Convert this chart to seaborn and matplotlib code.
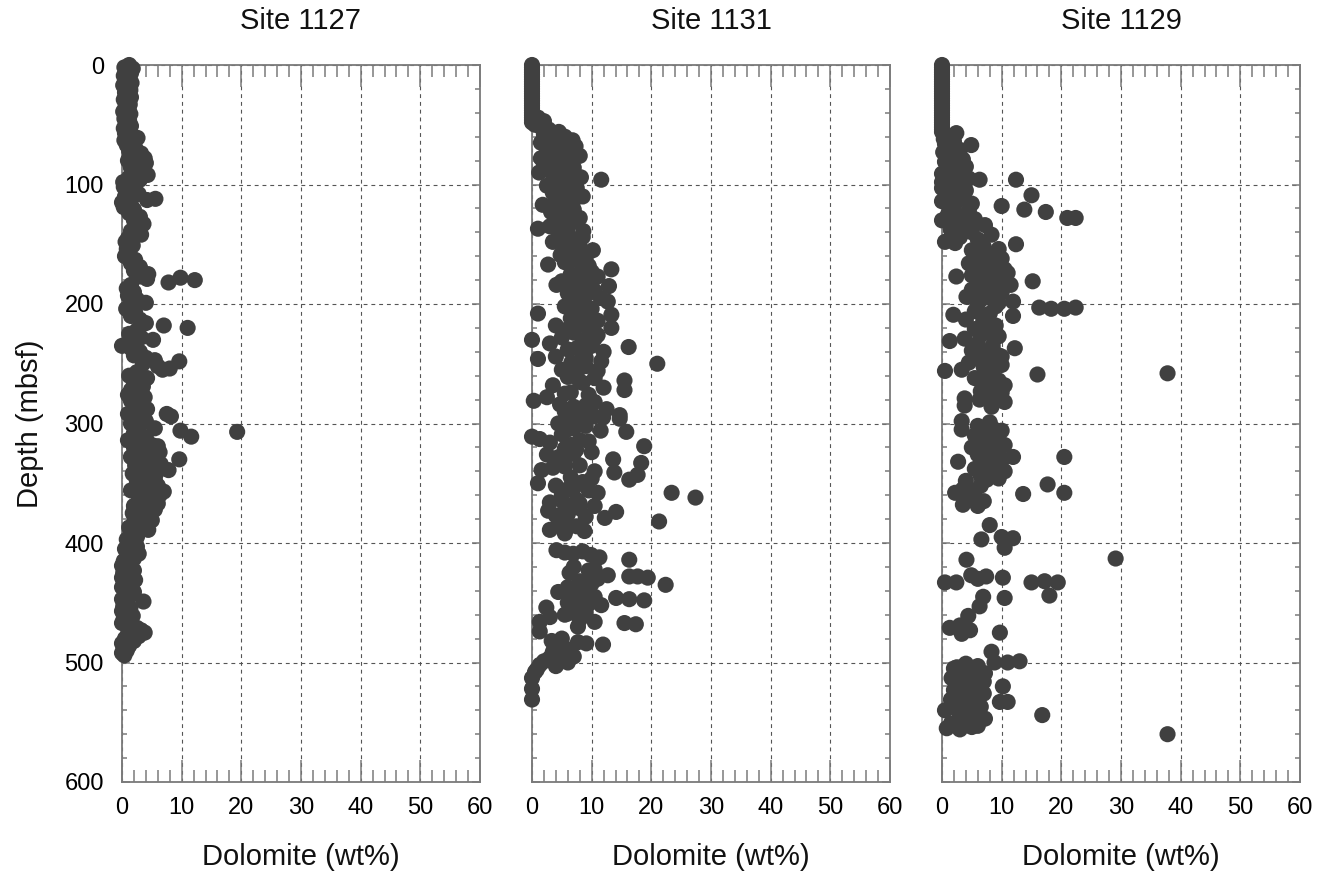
import numpy as np
import pandas as pd
import matplotlib
matplotlib.use("Agg")
import matplotlib.pyplot as plt
from matplotlib.ticker import MultipleLocator
import seaborn as sns

# ---------------- data ----------------
sites = ["Site 1127", "Site 1131", "Site 1129"]

depth_1127 = [0, 2, 3, 5, 7, 9, 11, 13, 15, 17, 19, 21, 23, 25, 27, 29, 31, 33, 35, 37, 39, 41, 43, 45, 47, 49,
              51, 53, 55, 57, 59, 61, 63, 65, 67, 69, 72, 74, 76, 78, 80, 82, 84, 86, 88, 90, 92, 94, 96, 98,
              100, 102, 104, 106, 108, 110, 112, 113, 115, 117, 119, 121, 124, 127, 130, 133, 136, 139, 142,
              145, 148, 151, 154, 157, 160, 163, 166, 169, 172, 175, 177, 178, 180, 182, 179, 184, 187, 190,
              193, 196, 199, 201, 204, 207, 210, 213, 216, 218, 220, 222, 225, 228, 230, 232, 235, 237, 240,
              243, 245, 247, 248, 250, 252, 254, 255, 257, 260, 263, 266, 269, 272, 275, 278, 281, 284, 287,
              290, 292, 294, 296, 298, 300, 302, 304, 306, 307, 311, 308, 312, 314, 316, 318, 320, 322, 324,
              326, 328, 330, 331, 333, 335, 337, 339, 340, 342, 344, 346, 348, 350, 352, 354, 356, 357, 359,
              361, 363, 365, 367, 369, 371, 373, 375, 377, 379, 381, 383, 385, 387, 389, 391, 393, 395, 397,
              399, 401, 403, 405, 407, 409, 411, 413, 415, 417, 419, 421, 423, 425, 427, 429, 431, 433, 435,
              437, 439, 441, 443, 445, 447, 449, 451, 453, 455, 457, 459, 461, 463, 465, 467, 469, 471, 473,
              475, 476, 478, 480, 482, 484, 486, 488, 490, 492, 494,
              310, 319, 327, 334, 341, 347, 353, 360, 366, 372, 378, 384, 389, 292, 288, 283, 276, 268, 262]
dol_1127 = [1.2, 0.4, 1.8, 0.8, 1.5, 0.3, 1.2, 0.7, 1.6, 0.2, 1.0, 1.4, 0.5, 1.1, 1.5, 0.3, 0.9, 1.3, 0.6, 1.1,
            0.2, 1.4, 0.8, 0.4, 1.2, 0.7, 1.5, 0.3, 1.0, 0.5, 1.3, 2.6, 0.4, 1.6, 0.8, 2.2, 1.2, 3.2, 2.0, 3.8,
            1.0, 4.0, 2.5, 1.5, 3.0, 2.0, 4.3, 1.2, 3.0, 0.2, 0.8, 0.3, 2.2, 1.2, 2.8, 0.5, 5.6, 4.2, 0.0, 1.5,
            0.3, 2.0, 1.2, 3.0, 2.0, 3.6, 2.5, 1.5, 3.2, 1.0, 0.6, 1.8, 0.8, 1.2, 0.5, 2.2, 1.5, 3.0, 2.0, 4.4,
            3.0, 9.8, 12.2, 7.8, 4.2, 1.5, 0.8, 2.0, 1.0, 2.5, 4.0, 1.8, 0.7, 2.2, 1.5, 3.0, 4.0, 7.0, 11.0,
            2.5, 1.2, 3.2, 5.2, 2.0, 0.0, 1.5, 3.0, 2.0, 4.0, 5.5, 9.6, 3.5, 6.0, 8.0, 6.8, 2.5, 1.2, 3.0, 2.0,
            3.5, 1.5, 2.8, 3.8, 1.5, 3.0, 2.0, 3.5, 7.5, 8.2, 2.5, 4.0, 1.5, 3.0, 5.5, 9.8, 19.3, 11.6, 2.0,
            4.0, 1.0, 3.0, 5.0, 2.0, 4.5, 6.3, 3.0, 1.5, 9.6, 5.0, 3.5, 2.2, 5.2, 7.8, 4.0, 1.8, 3.2, 5.5, 2.5,
            4.5, 6.0, 3.0, 1.5, 7.0, 4.5, 2.8, 5.0, 3.5, 6.0, 2.0, 4.0, 3.0, 1.8, 4.5, 3.0, 5.0, 2.0, 3.8, 1.2,
            4.4, 2.8, 1.5, 2.5, 0.8, 2.0, 1.2, 2.5, 0.5, 1.8, 2.8, 1.0, 2.0, 0.3, 1.5, 0.0, 1.2, 2.0, 0.2, 1.5,
            0.0, 2.2, 0.8, 1.6, 0.0, 1.0, 2.0, 0.5, 1.2, 0.0, 3.6, 1.0, 0.2, 1.4, 0.0, 0.8, 1.8, 0.3, 1.0, 0.0,
            1.5, 2.5, 3.2, 3.8, 1.0, 2.8, 0.5, 2.0, 0.0, 1.2, 0.3, 0.8, 0.0, 0.4,
            2.0, 6.0, 4.0, 6.5, 5.8, 3.8, 5.0, 6.3, 4.5, 5.5, 2.2, 4.0, 3.2, 1.0, 4.2, 2.2, 1.0, 2.5, 4.2]

depth_1131 = [0, 2, 4, 6, 8, 10, 12, 14, 16, 18, 20, 22, 24, 26, 28, 30, 32, 34, 36, 38, 40, 42, 44, 46, 48,
              44, 47, 50, 52, 54, 56, 58, 60, 61, 63, 65, 66, 68, 70, 72, 74, 76, 78, 80, 82, 84, 86, 88, 90,
              92, 94, 96, 97, 99, 101, 103, 105, 107, 110, 112, 114, 117, 119, 121, 123, 125, 127, 129, 131,
              133, 135, 137, 139, 141, 143, 146, 148, 150, 152, 155, 157, 159, 161, 163, 165, 167, 169, 171,
              173, 175, 177, 179, 181, 183, 184, 185, 187, 189, 191, 193, 195, 197, 198, 200, 202, 204, 206,
              208, 209, 210, 212, 214, 216, 218, 220, 222, 224, 226, 228, 230, 231, 233, 235, 236, 238, 240,
              242, 244, 246, 248, 249, 250, 252, 255, 258, 261, 262, 264, 266, 268, 270, 272, 274, 276, 278,
              281, 282, 284, 286, 288, 290, 292, 293, 294, 295, 296, 298, 300, 302, 304, 306, 307, 309, 311,
              313, 314, 316, 318, 319, 321, 322, 324, 326, 328, 330, 331, 333, 335, 337, 339, 340, 341, 343,
              345, 347, 349, 350, 352, 354, 356, 358, 358, 360, 362, 364, 366, 368, 369, 371, 373, 374, 376,
              378, 379, 382, 384, 386, 389, 390, 392, 406, 408, 409, 407, 410, 412, 414, 420, 423, 425, 427,
              428, 428, 429, 430, 432, 434, 435, 436, 438, 440, 441, 443, 445, 446, 447, 448, 449, 450, 452,
              454, 456, 458, 460, 462, 464, 466, 466, 467, 468, 470, 474, 480, 482, 483, 484, 485, 487, 489,
              491, 493, 495, 497, 499, 500, 502, 503, 506, 508, 513, 522, 531,
              62, 71, 79, 87, 95, 104, 113, 120, 128, 136, 144, 153, 160, 168, 176, 186, 194, 203, 213, 221,
              229, 237, 245, 256, 265, 275, 285, 297, 305, 315, 325, 336, 346, 355, 367, 377, 387, 422, 437,
              444, 451, 459, 488, 496]
dol_1131 = [0.0, 0.0, 0.0, 0.0, 0.0, 0.0, 0.0, 0.0, 0.0, 0.0, 0.0, 0.0, 0.0, 0.0, 0.0, 0.0, 0.0, 0.0, 0.0, 0.0,
            0.0, 0.0, 0.0, 0.0, 0.0, 1.0, 2.0, 0.5, 1.5, 2.8, 4.5, 2.0, 5.5, 3.5, 6.8, 1.5, 4.2, 7.3, 2.5, 5.0,
            3.5, 8.0, 1.5, 6.0, 4.0, 2.0, 7.0, 5.0, 1.2, 3.5, 8.2, 11.6, 6.0, 4.5, 2.5, 7.5, 5.5, 3.5, 8.5, 6.5,
            4.0, 1.8, 5.0, 7.0, 3.2, 5.5, 6.8, 4.0, 7.5, 5.2, 3.0, 1.0, 8.6, 6.0, 4.5, 7.0, 3.5, 5.5, 8.0, 10.2,
            6.5, 4.8, 9.0, 7.0, 5.5, 2.7, 8.5, 13.3, 10.0, 6.5, 11.0, 8.0, 5.0, 9.5, 4.1, 12.9, 7.5, 10.5, 6.0,
            9.0, 11.5, 7.0, 12.7, 8.5, 5.5, 10.0, 7.5, 1.0, 13.3, 9.0, 6.5, 11.0, 8.0, 4.0, 13.3, 9.5, 7.0, 11.0,
            5.0, 0.0, 8.5, 3.0, 10.0, 16.2, 6.0, 12.0, 8.5, 4.0, 1.0, 11.6, 6.6, 21.0, 9.0, 5.0, 7.5, 6.0, 10.5,
            15.5, 8.5, 3.5, 12.0, 15.5, 6.5, 9.5, 2.5, 0.3, 10.5, 4.7, 7.0, 12.5, 5.5, 8.3, 14.7, 10.5, 11.9,
            14.7, 6.5, 4.4, 9.0, 7.0, 11.5, 15.8, 5.0, 0.0, 1.3, 8.0, 3.0, 6.5, 18.8, 5.5, 7.4, 10.0, 2.5, 4.5,
            13.6, 5.5, 18.3, 8.0, 3.5, 1.6, 10.5, 13.8, 17.7, 6.5, 16.3, 8.5, 1.0, 4.0, 7.0, 9.5, 23.4, 11.0,
            5.0, 27.4, 7.5, 3.0, 5.5, 10.5, 8.0, 2.7, 14.1, 6.0, 9.0, 12.2, 21.3, 4.5, 7.5, 3.0, 8.8, 5.5, 4.1,
            5.5, 6.9, 8.5, 9.9, 11.3, 16.3, 7.0, 9.5, 6.3, 12.7, 16.3, 17.7, 19.4, 11.0, 8.0, 10.0, 22.4, 8.8,
            7.0, 9.5, 4.4, 6.5, 10.5, 14.1, 16.3, 18.8, 8.0, 6.0, 11.6, 2.4, 7.0, 9.0, 5.5, 3.0, 8.0, 1.3, 10.5,
            15.5, 17.4, 7.7, 1.3, 5.0, 3.3, 7.7, 9.1, 11.9, 4.5, 6.0, 3.5, 5.5, 7.0, 4.5, 2.0, 6.0, 1.3, 4.0,
            0.8, 0.5, 0.0, 0.0, 0.0,
            3.0, 6.5, 3.5, 5.5, 6.0, 4.0, 7.0, 5.0, 8.0, 6.0, 8.5, 7.0, 6.5, 9.5, 8.5, 6.5, 7.5, 9.0, 8.5, 6.0,
            10.5, 7.5, 9.0, 11.0, 8.0, 5.5, 9.0, 7.5, 6.0, 9.5, 7.0, 5.5, 10.0, 6.0, 8.0, 4.0, 6.0, 10.5, 6.0,
            8.5, 9.5, 6.0, 5.0, 3.0]

depth_1129 = [0, 2, 4, 6, 8, 10, 12, 14, 16, 18, 20, 22, 24, 26, 28, 30, 32, 34, 36, 38, 40, 42, 44, 46, 48,
              50, 52, 54, 56, 57, 60, 62, 64, 66, 67, 69, 71, 73, 75, 77, 79, 81, 83, 85, 87, 89, 91, 93, 95,
              96, 96, 98, 99, 101, 103, 105, 107, 109, 110, 112, 114, 116, 118, 119, 121, 122, 123, 125, 127,
              128, 128, 129, 130, 132, 134, 136, 138, 140, 142, 144, 146, 148, 149, 150, 152, 154, 156, 158,
              160, 162, 164, 166, 168, 170, 172, 174, 176, 177, 178, 180, 181, 182, 184, 186, 188, 190, 192,
              194, 196, 198, 200, 202, 203, 204, 204, 203, 206, 208, 209, 210, 211, 213, 215, 218, 221, 224,
              227, 229, 231, 233, 235, 237, 239, 241, 243, 245, 247, 249, 251, 253, 255, 256, 258, 259, 260,
              262, 264, 266, 268, 270, 271, 273, 275, 277, 279, 280, 281, 282, 285, 286, 298, 299, 302, 304,
              305, 306, 308, 310, 312, 314, 316, 318, 320, 322, 324, 326, 328, 328, 330, 332, 334, 336, 338,
              340, 342, 344, 346, 348, 351, 352, 355, 356, 358, 359, 358, 362, 365, 368, 369, 385, 395, 396,
              397, 404, 413, 414, 427, 428, 429, 430, 433, 433, 433, 432, 433, 444, 445, 446, 453, 461, 469,
              471, 473, 476, 475, 491, 500, 500, 499, 501, 503, 505, 507, 509, 511, 513, 515, 516, 518, 520,
              521, 523, 525, 527, 529, 531, 533, 533, 535, 537, 539, 540, 542, 544, 545, 547, 549, 551, 553,
              555, 556, 560,
              155, 159, 163, 167, 171, 175, 179, 183, 187, 191, 195, 199, 226, 244, 252, 265, 274, 303, 307,
              311, 315, 319, 323, 327, 331, 335, 339, 343, 347, 504, 508, 512, 517, 522, 526, 530, 534, 538,
              543, 548, 552, 554, 219]
dol_1129 = [0.0, 0.0, 0.0, 0.0, 0.0, 0.0, 0.0, 0.0, 0.0, 0.0, 0.0, 0.0, 0.0, 0.0, 0.0, 0.0, 0.0, 0.0, 0.0, 0.0,
            0.0, 0.0, 0.0, 0.0, 0.0, 0.0, 0.0, 0.0, 0.0, 2.4, 1.0, 0.3, 2.0, 0.5, 4.9, 1.5, 3.0, 0.2, 2.5, 1.0,
            3.5, 0.5, 2.0, 4.0, 1.2, 3.0, 0.0, 2.2, 4.5, 6.3, 12.4, 0.0, 3.0, 1.5, 0.0, 4.0, 2.5, 15.0, 1.0,
            3.5, 0.0, 5.0, 10.0, 2.0, 13.8, 4.5, 17.4, 1.0, 3.0, 21.0, 22.4, 5.5, 0.0, 2.5, 7.2, 4.0, 1.5, 5.0,
            8.3, 3.0, 6.0, 0.5, 2.2, 12.4, 7.0, 9.5, 5.5, 8.0, 6.5, 10.0, 7.5, 4.5, 9.0, 6.0, 8.5, 11.0, 5.0,
            2.4, 7.5, 9.5, 15.2, 6.0, 11.5, 8.0, 5.0, 10.0, 7.0, 4.1, 8.5, 11.9, 6.0, 9.0, 16.3, 18.3, 20.5,
            22.4, 5.5, 8.0, 1.9, 11.9, 6.9, 4.0, 6.9, 9.0, 5.5, 7.5, 9.5, 3.8, 1.3, 6.0, 8.5, 12.2, 5.0, 7.5,
            9.5, 6.0, 8.0, 4.5, 10.0, 7.0, 3.3, 0.5, 37.8, 16.0, 8.5, 5.5, 9.5, 7.0, 10.5, 8.3, 10.0, 6.5, 9.0,
            7.5, 3.8, 6.3, 8.3, 10.5, 3.8, 8.3, 3.3, 8.0, 6.0, 8.5, 3.3, 10.0, 7.0, 5.5, 9.0, 6.5, 8.0, 10.5,
            5.0, 7.5, 9.5, 6.0, 20.5, 11.9, 8.0, 2.7, 7.0, 9.0, 5.5, 10.5, 8.0, 6.5, 9.5, 4.0, 17.7, 6.5, 3.5,
            5.5, 20.5, 13.6, 2.2, 4.5, 7.0, 3.5, 6.0, 8.0, 10.0, 11.9, 6.6, 10.5, 29.1, 4.1, 4.9, 7.4, 10.2,
            6.0, 0.5, 2.4, 15.0, 17.2, 19.4, 18.0, 6.9, 10.5, 6.3, 4.4, 3.0, 1.3, 4.7, 3.3, 9.7, 8.3, 8.8, 11.0,
            13.0, 4.0, 6.0, 2.0, 5.0, 7.2, 3.0, 1.6, 5.5, 7.0, 3.5, 10.2, 4.5, 2.0, 6.0, 3.5, 5.0, 1.5, 9.7,
            11.0, 4.0, 6.5, 2.5, 0.5, 5.0, 16.8, 3.0, 7.2, 4.5, 1.5, 6.0, 0.8, 3.0, 37.8,
            5.0, 7.5, 9.0, 5.5, 10.5, 7.0, 8.5, 6.5, 9.5, 6.0, 7.0, 9.5, 6.5, 10.0, 8.5, 7.0, 10.0, 7.5, 9.5,
            6.0, 8.5, 7.0, 9.0, 6.5, 10.0, 8.0, 7.0, 9.5, 7.5, 2.5, 4.5, 6.0, 3.0, 5.5, 7.0, 2.5, 4.5, 6.0,
            3.5, 5.5, 2.5, 5.0, 7.0]

x_ticks = [0, 10, 20, 30, 40, 50, 60]
y_ticks = [0, 100, 200, 300, 400, 500, 600]
x_label = "Dolomite (wt%)"
y_label = "Depth (mbsf)"

# ---------------- styling ----------------
sns.set_theme(style="white")
plt.rcParams["font.family"] = ["Liberation Sans", "DejaVu Sans"]

W, H = 1338, 877
fig = plt.figure(figsize=(W / 100, H / 100), dpi=100)

lefts = [122, 532, 942]
ax_w = 358
top_px, bot_px = 65, 782

datasets = [(depth_1127, dol_1127), (depth_1131, dol_1131), (depth_1129, dol_1129)]
dot_color = "#404040"
edge_color = "#7a7a7a"

for i, (name, (dep, dol)) in enumerate(zip(sites, datasets)):
    ax = fig.add_axes([lefts[i] / W, 1 - bot_px / H, ax_w / W, (bot_px - top_px) / H])
    df = pd.DataFrame({"Dolomite": dol, "Depth": dep})
    sns.scatterplot(data=df, x="Dolomite", y="Depth", ax=ax, color=dot_color,
                    s=135, linewidth=0, edgecolor="none", zorder=3)
    for coll in ax.collections:
        coll.set_clip_on(False)
    ax.set_xlim(0, 60)
    ax.set_ylim(600, 0)
    ax.set_xticks(x_ticks)
    ax.set_yticks(y_ticks)
    ax.xaxis.set_minor_locator(MultipleLocator(2))
    ax.yaxis.set_minor_locator(MultipleLocator(20))
    ax.set_axisbelow(True)
    ax.grid(True, which="major", linestyle=(0, (3.5, 3.5)), color="#555555", linewidth=0.8)
    for sp in ax.spines.values():
        sp.set_visible(True)
        sp.set_color(edge_color)
        sp.set_linewidth(1.3)
    ax.tick_params(axis="x", which="major", direction="in", length=16, width=1.1, color=edge_color,
                   top=True, bottom=True, labelsize=17, pad=11, labelcolor="black")
    ax.tick_params(axis="x", which="minor", direction="in", length=8.5, width=1.1, color=edge_color,
                   top=True, bottom=True)
    ax.tick_params(axis="y", which="major", direction="in", length=6, width=1.1, color=edge_color,
                   left=True, right=True, labelsize=17, pad=13, labelcolor="black")
    ax.tick_params(axis="y", which="minor", direction="in", length=3.5, width=1.1, color=edge_color,
                   left=True, right=True)
    ax.set_title(name, fontsize=21, pad=26, color="#111111")
    ax.set_xlabel(x_label, fontsize=21, labelpad=17, color="#111111")
    if i == 0:
        ax.set_ylabel(y_label, fontsize=21, labelpad=15, color="#111111")
    else:
        ax.set_ylabel("")
        ax.tick_params(axis="y", labelleft=False)

fig.savefig("out.png", dpi=100, facecolor="white")
